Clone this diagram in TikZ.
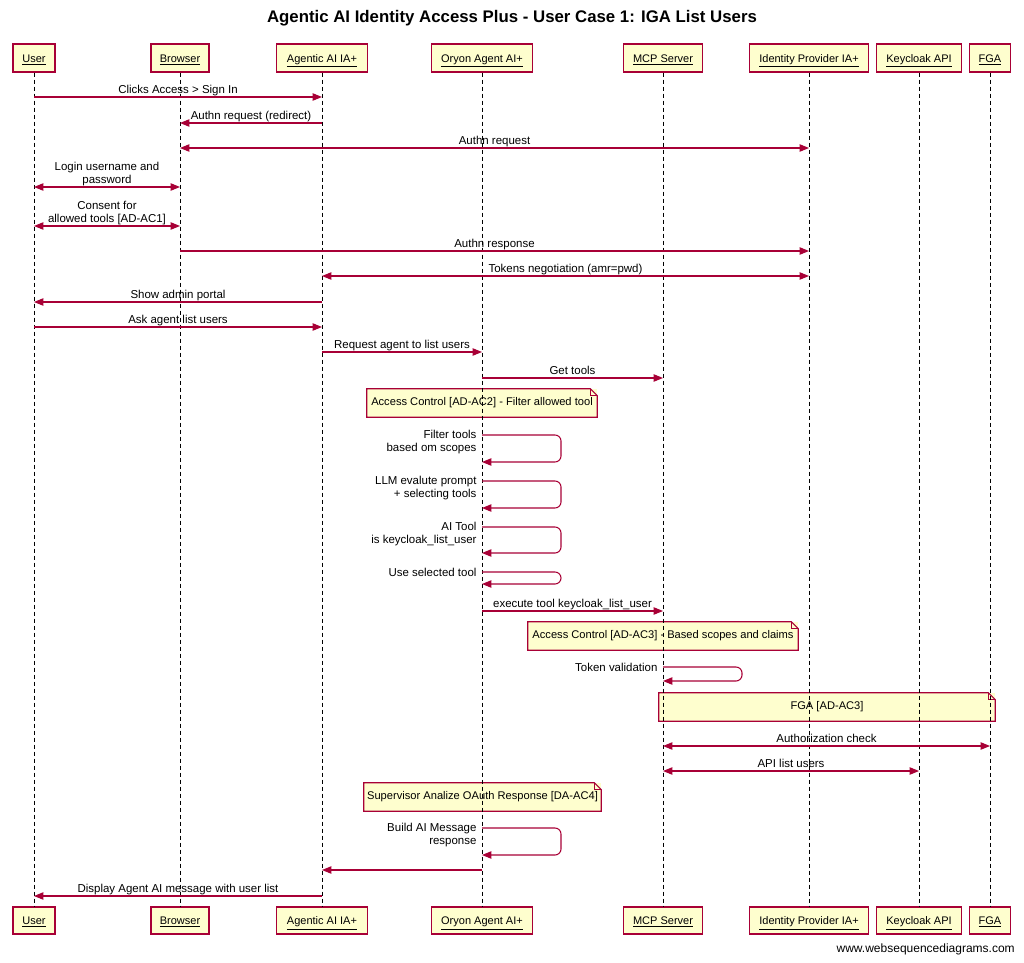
\documentclass[tikz,border=0pt]{standalone}
\usepackage{fontspec}
\setmainfont{Liberation Sans}
\usetikzlibrary{arrows.meta}
\definecolor{crim}{HTML}{A80036}
\definecolor{boxfill}{HTML}{FEFECE}
\newcommand\drawnote[1]{%
  \draw[noteline] (#1.south west) -- (#1.north west) -- ([xshift=-5.25pt]#1.north east) -- ([yshift=-5.25pt]#1.north east) -- (#1.south east) -- cycle;
  \draw[noteline] ([xshift=-5.25pt]#1.north east) |- ([yshift=-5.25pt]#1.north east);
}
\begin{document}
\begin{tikzpicture}[x=0.75pt,y=-0.75pt,
  pw/.style={minimum width=#1*0.75pt},
  ph/.style={minimum height=#1*0.75pt},
  part/.style={draw=crim, fill=boxfill, line width=1pt, inner sep=0, text height=7pt, text depth=0.8pt, font=\fontsize{8.25}{10}\selectfont},
  life/.style={black, line width=0.75pt, dash pattern=on 3pt off 2.25pt},
  msg/.style={crim, line width=0.8pt, -{Triangle[length=7pt,width=5.5pt]}},
  dmsg/.style={crim, line width=0.8pt, {Triangle[length=7pt,width=5.5pt]}-{Triangle[length=7pt,width=5.5pt]}},
  lbl/.style={black, font=\fontsize{8.6}{9.75}\selectfont, inner sep=0, text depth=0pt, anchor=south, align=center, yshift=2.25pt},
  slbl/.style={black, font=\fontsize{8.6}{9.75}\selectfont, inner sep=0, text depth=0pt, anchor=south east, align=right, xshift=-3.75pt},
  notebox/.style={fill=boxfill, inner sep=0, draw=none, font=\fontsize{8.35}{10}\selectfont},
  noteline/.style={draw=crim, line width=0.8pt},
  loopmsg/.style={msg, rounded corners=4.5pt},
]
\useasboundingbox[fill=white] (0,0) rectangle (1024,963);

\node[font=\bfseries\fontsize{12.6}{15}\selectfont] (title) at (512,18) {Agentic AI Identity Access Plus - User Case 1: IGA List Users};

% notes (drawn under lifelines)
\node[notebox, pw=230, ph=28] (n1) at (482,403) {Access Control [AD-AC2] - Filter allowed tool};
\drawnote{n1}
\node[notebox, pw=270, ph=28] (n2) at (663,636) {Access Control [AD-AC3] - Based scopes and claims};
\drawnote{n2}
\node[notebox, pw=336, ph=28] (n3) at (827,707) {FGA [AD-AC3]};
\drawnote{n3}
\node[notebox, pw=237, ph=28] (n4) at (482.5,797) {Supervisor Analize OAuth Response [DA-AC4]};
\drawnote{n4}

% participants top
\node[part, pw=42, ph=28] (pU) at (34,58) {\underline{User}};
\node[part, pw=58, ph=28] (pB) at (180,58) {\underline{Browser}};
\node[part, pw=91, ph=28] (pA) at (322,58) {\underline{Agentic AI IA+}};
\node[part, pw=101, ph=28] (pO) at (482,58) {\underline{Oryon Agent AI+}};
\node[part, pw=79, ph=28] (pM) at (663,58) {\underline{MCP Server}};
\node[part, pw=119, ph=28] (pI) at (809,58) {\underline{Identity Provider IA+}};
\node[part, pw=85, ph=28] (pK) at (919,58) {\underline{Keycloak API}};
\node[part, pw=41, ph=28] (pF) at (990,58) {\underline{FGA}};
% participants bottom
\node[part, pw=42, ph=27] (bU) at (34,920.5) {\underline{User}};
\node[part, pw=58, ph=27] (bB) at (180,920.5) {\underline{Browser}};
\node[part, pw=91, ph=27] (bA) at (322,920.5) {\underline{Agentic AI IA+}};
\node[part, pw=101, ph=27] (bO) at (482,920.5) {\underline{Oryon Agent AI+}};
\node[part, pw=79, ph=27] (bM) at (663,920.5) {\underline{MCP Server}};
\node[part, pw=119, ph=27] (bI) at (809,920.5) {\underline{Identity Provider IA+}};
\node[part, pw=85, ph=27] (bK) at (919,920.5) {\underline{Keycloak API}};
\node[part, pw=41, ph=27] (bF) at (990,920.5) {\underline{FGA}};

% lifelines
\foreach \p in {U,B,A,O,M,I,K,F} \draw[life] (p\p) -- (b\p);

% messages
\draw[msg] (pU |- 0,97) -- (pA |- 0,97) node[lbl, midway] {Clicks Access > Sign In};
\draw[msg] (pA |- 0,123) -- (pB |- 0,123) node[lbl, midway] {Authn request (redirect)};
\draw[dmsg] (pB |- 0,148) -- (pI |- 0,148) node[lbl, midway] {Authn request};
\draw[dmsg] (pU |- 0,187) -- (pB |- 0,187) node[lbl, midway] {Login username and\\password};
\draw[dmsg] (pU |- 0,226) -- (pB |- 0,226) node[lbl, midway] {Consent for\\allowed tools [AD-AC1]};
\draw[msg] (pB |- 0,251) -- (pI |- 0,251) node[lbl, midway] {Authn response};
\draw[dmsg] (pA |- 0,276) -- (pI |- 0,276) node[lbl, midway] {Tokens negotiation (amr=pwd)};
\draw[msg] (pA |- 0,302) -- (pU |- 0,302) node[lbl, midway] {Show admin portal};
\draw[msg] (pU |- 0,327) -- (pA |- 0,327) node[lbl, midway] {Ask agent list users};
\draw[msg] (pA |- 0,352) -- (pO |- 0,352) node[lbl, midway] {Request agent to list users};
\draw[msg] (pO |- 0,378) -- (pM |- 0,378) node[lbl, midway] {Get tools};

% self loops on Oryon
\draw[loopmsg] (pO |- 0,435) node[slbl, yshift=-13.1pt] {Filter tools\\based om scopes} -- ++(79,0) -- ++(0,27) -- ++(-79,0);
\draw[loopmsg] (pO |- 0,481) node[slbl, yshift=-13.1pt] {LLM evalute prompt\\+ selecting tools} -- ++(79,0) -- ++(0,27) -- ++(-79,0);
\draw[loopmsg] (pO |- 0,527) node[slbl, yshift=-13.1pt] {AI Tool\\is keycloak\_list\_user} -- ++(79,0) -- ++(0,26) -- ++(-79,0);
\draw[loopmsg] (pO |- 0,572) node[slbl, yshift=-3.4pt] {Use selected tool} -- ++(79,0) -- ++(0,12) -- ++(-79,0);

\draw[msg] (pO |- 0,611) -- (pM |- 0,611) node[lbl, midway] {execute tool keycloak\_list\_user};

\draw[loopmsg] (pM |- 0,667) node[slbl, yshift=-3.6pt] {Token validation} -- ++(79,0) -- ++(0,14) -- ++(-79,0);

\draw[dmsg] (pM |- 0,746) -- (pF |- 0,746) node[lbl, midway] {Authorization check};
\draw[dmsg] (pM |- 0,771) -- (pK |- 0,771) node[lbl, midway] {API list users};

\draw[loopmsg] (pO |- 0,828) node[slbl, yshift=-13.1pt] {Build AI Message\\response} -- ++(79,0) -- ++(0,27) -- ++(-79,0);

\draw[msg] (pO |- 0,870) -- (pA |- 0,870);
\draw[msg] (pA |- 0,896) -- (pU |- 0,896) node[lbl, midway] {Display Agent AI message with user list};

\node[anchor=east, inner sep=0, font=\fontsize{9}{11}\selectfont] (wsd) at (1015,949) {www.websequencediagrams.com};
\end{tikzpicture}
\end{document}
